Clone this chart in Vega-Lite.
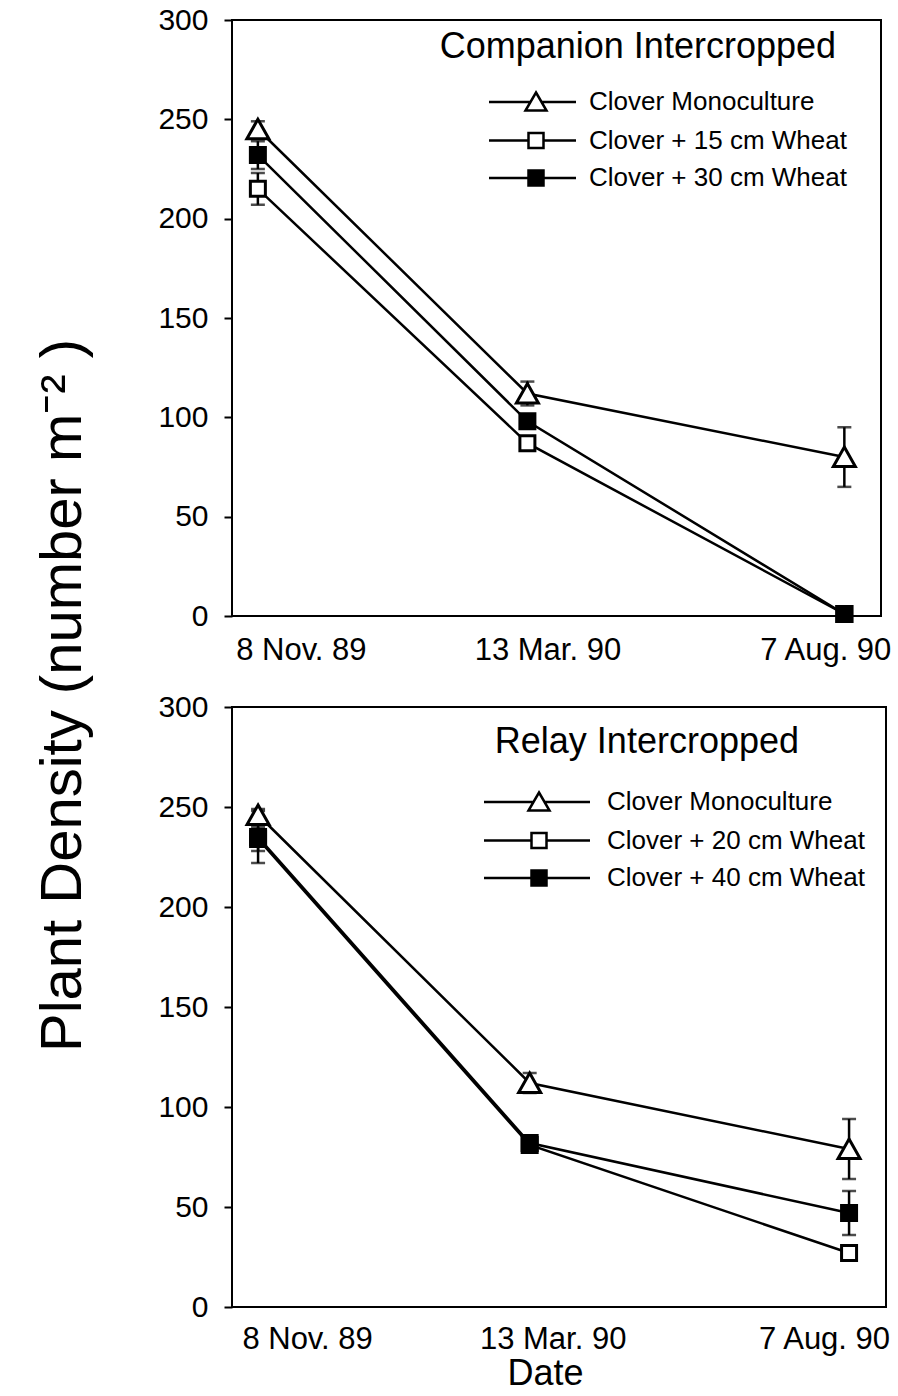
{
  "$schema": "https://vega.github.io/schema/vega-lite/v6.json",
  "background": "white",
  "padding": {"left": 33, "top": 4, "right": 6, "bottom": 0},
  "config": {
    "font": "Liberation Sans",
    "view": {"stroke": "black", "strokeWidth": 2},
    "axis": {"domain": false, "grid": false, "labelColor": "black", "titleColor": "black", "tickColor": "black", "labelFont": "Liberation Sans", "titleFont": "Liberation Sans", "titleFontWeight": "normal"},
    "title": {"font": "Liberation Sans", "fontWeight": "normal", "color": "black"},
    "legend": {"labelFont": "Liberation Sans", "labelColor": "black", "padding": 0, "labelLimit": 400, "symbolOpacity": 1}
  },
  "datasets": {
    "density": [
      {"panel": "Companion", "series": "Clover Monoculture", "date": "1989-11-08", "density": 245, "lo": 241, "hi": 249},
      {"panel": "Companion", "series": "Clover Monoculture", "date": "1990-03-13", "density": 112, "lo": 106, "hi": 118},
      {"panel": "Companion", "series": "Clover Monoculture", "date": "1990-08-07", "density": 80, "lo": 65, "hi": 95},
      {"panel": "Companion", "series": "Clover + 15 cm Wheat", "date": "1989-11-08", "density": 215, "lo": 207, "hi": 223},
      {"panel": "Companion", "series": "Clover + 15 cm Wheat", "date": "1990-03-13", "density": 87, "lo": 84, "hi": 90},
      {"panel": "Companion", "series": "Clover + 15 cm Wheat", "date": "1990-08-07", "density": 1, "lo": 1, "hi": 1},
      {"panel": "Companion", "series": "Clover + 30 cm Wheat", "date": "1989-11-08", "density": 232, "lo": 225, "hi": 239},
      {"panel": "Companion", "series": "Clover + 30 cm Wheat", "date": "1990-03-13", "density": 98, "lo": 95, "hi": 101},
      {"panel": "Companion", "series": "Clover + 30 cm Wheat", "date": "1990-08-07", "density": 1, "lo": 1, "hi": 1},
      {"panel": "Relay", "series": "Clover Monoculture", "date": "1989-11-08", "density": 246, "lo": 243, "hi": 249},
      {"panel": "Relay", "series": "Clover Monoculture", "date": "1990-03-13", "density": 112, "lo": 107, "hi": 117},
      {"panel": "Relay", "series": "Clover Monoculture", "date": "1990-08-07", "density": 79, "lo": 64, "hi": 94},
      {"panel": "Relay", "series": "Clover + 20 cm Wheat", "date": "1989-11-08", "density": 234, "lo": 228, "hi": 240},
      {"panel": "Relay", "series": "Clover + 20 cm Wheat", "date": "1990-03-13", "density": 81, "lo": 78, "hi": 84},
      {"panel": "Relay", "series": "Clover + 20 cm Wheat", "date": "1990-08-07", "density": 27, "lo": 24, "hi": 30},
      {"panel": "Relay", "series": "Clover + 40 cm Wheat", "date": "1989-11-08", "density": 235, "lo": 222, "hi": 248},
      {"panel": "Relay", "series": "Clover + 40 cm Wheat", "date": "1990-03-13", "density": 82, "lo": 79, "hi": 85},
      {"panel": "Relay", "series": "Clover + 40 cm Wheat", "date": "1990-08-07", "density": 47, "lo": 36, "hi": 58}
    ]
  },
  "bounds": "flush",
  "spacing": 91,
  "resolve": {
    "scale": {"shape": "independent", "fill": "independent"},
    "legend": {"shape": "independent", "fill": "independent"}
  },
  "vconcat": [
    {
      "width": 649,
      "height": 596,
      "title": {"text": "Companion Intercropped", "orient": "top", "anchor": "end", "frame": "group", "baseline": "alphabetic", "offset": 0, "dy": 89, "dx": -45, "fontSize": 36},
      "data": {"name": "density"},
      "transform": [{"filter": "datum.panel === 'Companion'"}],
      "encoding": {
        "x": {
          "field": "date", "type": "temporal",
          "scale": {"domain": [{"year": 1989, "month": 10, "date": 27, "utc": true}, {"year": 1990, "month": 8, "date": 24, "utc": true}]},
          "axis": {
            "title": null,
            "values": [{"year": 1989, "month": 11, "date": 8, "utc": true}, {"year": 1990, "month": 3, "date": 13, "utc": true}, {"year": 1990, "month": 8, "date": 7, "utc": true}],
            "labelExpr": "utcFormat(datum.value, '%-d %b. %y')",
            "ticks": false, "labelFontSize": 31, "labelPadding": 19, "labelOverlap": false, "labelFlush": false, "labelBound": false,
            "labelOffset": {"condition": [{"test": "datum.index == 0", "value": 43}, {"test": "datum.index == 1", "value": -19}], "value": 20}
          }
        },
        "y": {
          "field": "density", "type": "quantitative",
          "scale": {"domain": [0, 300], "nice": false, "zero": true},
          "axis": {
            "title": "Plant Density (number  m⁻² )",
            "titleFontSize": 58, "titleAngle": -90, "titleAlign": "center", "titleBaseline": "bottom",
            "titleX": -140, "titleY": 675,
            "values": [0, 50, 100, 150, 200, 250, 300],
            "tickSize": 8, "tickWidth": 2, "labelFontSize": 30, "labelPadding": 16
          }
        }
      },
      "layer": [
        {
          "mark": {"type": "line", "stroke": "black", "strokeWidth": 2.5},
          "encoding": {"detail": {"field": "series", "type": "nominal"}}
        },
        {
          "mark": {"type": "errorbar", "color": "black", "thickness": 2.5, "ticks": {"size": 14}},
          "encoding": {
            "y": {"field": "lo", "type": "quantitative", "title": "Plant Density (number  m⁻² )"},
            "y2": {"field": "hi"},
            "detail": {"field": "series", "type": "nominal"}
          }
        },
        {
          "mark": {"type": "point", "filled": true, "opacity": 1, "stroke": "black", "strokeWidth": 3, "size": 400},
          "encoding": {
            "shape": {"field": "series", "type": "nominal", "legend": null,
              "scale": {"domain": ["Clover Monoculture", "Clover + 15 cm Wheat", "Clover + 30 cm Wheat"],
                        "range": ["M0,-1L1.1,0.95L-1.1,0.95Z", "M-0.75,-0.75H0.75V0.75H-0.75Z", "M-0.75,-0.75H0.75V0.75H-0.75Z"]}},
            "fill": {"field": "series", "type": "nominal", "legend": null,
              "scale": {"domain": ["Clover Monoculture", "Clover + 15 cm Wheat", "Clover + 30 cm Wheat"], "range": ["white", "white", "black"]}}
          }
        },
        {
          "transform": [{"filter": "false"}],
          "mark": {"type": "point", "stroke": "black", "opacity": 1},
          "encoding": {
            "shape": {"field": "series", "type": "nominal",
              "scale": {"domain": ["Clover Monoculture", "Clover + 15 cm Wheat", "Clover + 30 cm Wheat"],
                        "range": [
                          "M-4.7,0H-0.55M0.55,0H4.0M0,-0.95L1.05,0.85L-1.05,0.85Z",
                          "M-4.7,0H-0.75M0.75,0H4.0M-0.75,-0.75H0.75V0.75H-0.75Z",
                          "M-4.7,0H-0.75M0.75,0H4.0M-0.75,-0.75H0.75V0.75H-0.75ZM-0.75,-0.6H0.75M-0.75,-0.4H0.75M-0.75,-0.2H0.75M-0.75,0H0.75M-0.75,0.2H0.75M-0.75,0.4H0.75M-0.75,0.6H0.75"
                        ]},
              "legend": {
                "title": null, "orient": "none", "legendX": 291, "legendY": 69,
                "symbolSize": 400, "symbolStrokeWidth": 2.5, "symbolStrokeColor": "black", "symbolFillColor": "white", "symbolOffset": 0,
                "labelFontSize": 26, "labelOffset": 40, "rowPadding": 11.5
              }
            }
          }
        }
      ],
      "resolve": {"scale": {"shape": "independent"}, "legend": {"shape": "independent"}}
    },
    {
      "width": 654,
      "height": 600,
      "title": {"text": "Relay Intercropped", "orient": "top", "anchor": "end", "frame": "group", "baseline": "alphabetic", "offset": 0, "dy": 97, "dx": -87, "fontSize": 36},
      "data": {"name": "density"},
      "transform": [{"filter": "datum.panel === 'Relay'"}],
      "encoding": {
        "x": {
          "field": "date", "type": "temporal",
          "scale": {"domain": [{"year": 1989, "month": 10, "date": 27, "utc": true}, {"year": 1990, "month": 8, "date": 24, "utc": true}]},
          "axis": {
            "title": "Date", "titleFontSize": 36, "titleX": 313, "titleAlign": "center", "titlePadding": 2,
            "values": [{"year": 1989, "month": 11, "date": 8, "utc": true}, {"year": 1990, "month": 3, "date": 13, "utc": true}, {"year": 1990, "month": 8, "date": 7, "utc": true}],
            "labelExpr": "utcFormat(datum.value, '%-d %b. %y')",
            "ticks": false, "labelFontSize": 31, "labelPadding": 17, "labelOverlap": false, "labelFlush": false, "labelBound": false,
            "labelOffset": {"condition": [{"test": "datum.index == 0", "value": 49}, {"test": "datum.index == 1", "value": -25}], "value": 23}
          }
        },
        "y": {
          "field": "density", "type": "quantitative",
          "scale": {"domain": [0, 300], "nice": false, "zero": true},
          "axis": {
            "title": null,
            "values": [0, 50, 100, 150, 200, 250, 300],
            "tickSize": 8, "tickWidth": 2, "labelFontSize": 30, "labelPadding": 16
          }
        }
      },
      "layer": [
        {
          "mark": {"type": "line", "stroke": "black", "strokeWidth": 2.5},
          "encoding": {"detail": {"field": "series", "type": "nominal"}}
        },
        {
          "mark": {"type": "errorbar", "color": "black", "thickness": 2.5, "ticks": {"size": 14}},
          "encoding": {
            "y": {"field": "lo", "type": "quantitative", "title": null},
            "y2": {"field": "hi"},
            "detail": {"field": "series", "type": "nominal"}
          }
        },
        {
          "mark": {"type": "point", "filled": true, "opacity": 1, "stroke": "black", "strokeWidth": 3, "size": 400},
          "encoding": {
            "shape": {"field": "series", "type": "nominal", "legend": null,
              "scale": {"domain": ["Clover Monoculture", "Clover + 20 cm Wheat", "Clover + 40 cm Wheat"],
                        "range": ["M0,-1L1.1,0.95L-1.1,0.95Z", "M-0.75,-0.75H0.75V0.75H-0.75Z", "M-0.75,-0.75H0.75V0.75H-0.75Z"]}},
            "fill": {"field": "series", "type": "nominal", "legend": null,
              "scale": {"domain": ["Clover Monoculture", "Clover + 20 cm Wheat", "Clover + 40 cm Wheat"], "range": ["white", "white", "black"]}}
          }
        },
        {
          "transform": [{"filter": "false"}],
          "mark": {"type": "point", "stroke": "black", "opacity": 1},
          "encoding": {
            "shape": {"field": "series", "type": "nominal",
              "scale": {"domain": ["Clover Monoculture", "Clover + 20 cm Wheat", "Clover + 40 cm Wheat"],
                        "range": [
                          "M-5.5,0H-0.55M0.55,0H5.1M0,-0.95L1.05,0.85L-1.05,0.85Z",
                          "M-5.5,0H-0.75M0.75,0H5.1M-0.75,-0.75H0.75V0.75H-0.75Z",
                          "M-5.5,0H-0.75M0.75,0H5.1M-0.75,-0.75H0.75V0.75H-0.75ZM-0.75,-0.6H0.75M-0.75,-0.4H0.75M-0.75,-0.2H0.75M-0.75,0H0.75M-0.75,0.2H0.75M-0.75,0.4H0.75M-0.75,0.6H0.75"
                        ]},
              "legend": {
                "title": null, "orient": "none", "legendX": 294, "legendY": 82,
                "symbolSize": 400, "symbolStrokeWidth": 2.5, "symbolStrokeColor": "black", "symbolFillColor": "white", "symbolOffset": 0,
                "labelFontSize": 26, "labelOffset": 55, "rowPadding": 11.5
              }
            }
          }
        }
      ],
      "resolve": {"scale": {"shape": "independent"}, "legend": {"shape": "independent"}}
    }
  ]
}
